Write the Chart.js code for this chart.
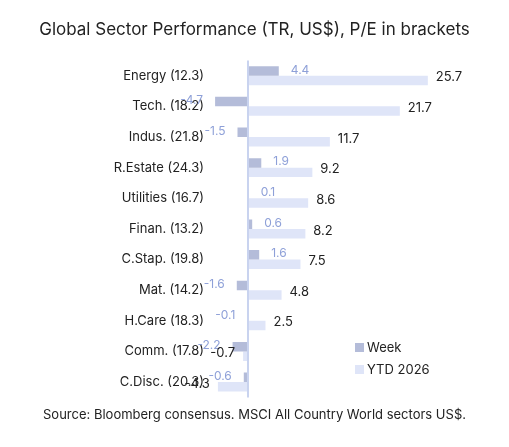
<!DOCTYPE html>
<html><head><meta charset="utf-8">
<script src="https://cdn.jsdelivr.net/npm/chart.js@4"></script>
<style>html,body{margin:0;background:#fff}#wrap{width:509px;height:447px}</style>
</head><body><div id="wrap"><canvas id="c"></canvas></div>
<script>
const categories = ['Energy (12.3)','Tech. (18.2)','Indus. (21.8)','R.Estate (24.3)','Utilities (16.7)','Finan. (13.2)','C.Stap. (19.8)','Mat. (14.2)','H.Care (18.3)','Comm. (17.8)','C.Disc. (20.3)'];
const weekValues = [4.4,-4.7,-1.5,1.9,0.1,0.6,1.6,-1.6,-0.1,-2.2,-0.6];
const ytdValues = [25.7,21.7,11.7,9.2,8.6,8.2,7.5,4.8,2.5,-0.7,-4.3];

const font = 'Inter, "DejaVu Sans", sans-serif';

const labelPlugin = {
  id: 'labels',
  afterDatasetsDraw(chart) {
    const ctx = chart.ctx;
    ctx.save();
    ctx.textBaseline = 'middle';
    chart.data.datasets.forEach((ds, i) => {
      const meta = chart.getDatasetMeta(i);
      meta.data.forEach((el, j) => {
        const v = ds.data[j];
        const neg = v < 0;
        ctx.font = (i === 0 ? '12px ' : '13px ') + font;
        ctx.fillStyle = i === 0 ? '#8ea0d8' : '#222';
        ctx.textAlign = neg ? 'right' : 'left';
        const gap = i === 0 ? 12 : 8;
        ctx.fillText(v.toFixed(1), el.x + (neg ? -gap : gap), el.y + (i === 0 ? -1 : -3));
      });
    });
    // legend
    const lx = 355, ly = 348;
    [['Week', '#b4bcd9'], ['YTD 2026', '#dfe5f8']].forEach((it, k) => {
      ctx.fillStyle = it[1];
      ctx.fillRect(lx, ly + k * 22 - 5, 9, 9);
      ctx.fillStyle = '#222';
      ctx.font = '13px ' + font;
      ctx.textAlign = 'left';
      ctx.fillText(it[0], lx + 12, ly + k * 22);
    });
    ctx.restore();
  }
};

new Chart(document.getElementById('c'), {
  type: 'bar',
  data: {
    labels: categories,
    datasets: [
      { label: 'Week', data: weekValues, backgroundColor: '#b4bcd9' },
      { label: 'YTD 2026', data: ytdValues, backgroundColor: '#dfe5f8' }
    ]
  },
  options: {
    indexAxis: 'y',
    responsive: true,
    maintainAspectRatio: false,
    animation: false,
    datasets: { bar: { categoryPercentage: 0.62, barPercentage: 1 } },
    layout: { padding: { left: 0, right: 0, top: 0, bottom: 0 } },
    scales: {
      x: {
        min: -5, max: 37.3, display: false,
        grid: { display: false }
      },
      y: {
        grid: { display: false },
        border: { display: false },
        ticks: { color: '#222', font: { family: font, size: 13 }, padding: 1 },
        afterFit(s) { s.width = 213; }
      }
    },
    plugins: {
      legend: { display: false },
      tooltip: { enabled: false },
      title: { display: true, text: 'Global Sector Performance (TR, US$), P/E in brackets', color: '#222', font: { family: font, size: 17, weight: 'normal' }, padding: { top: 20, bottom: 20 } },
      subtitle: { display: true, position: 'bottom', text: 'Source: Bloomberg consensus. MSCI All Country World sectors US$.', color: '#222', font: { family: font, size: 13 }, padding: { top: 10, bottom: 24 } }
    }
  },
  plugins: [labelPlugin, {
    id: 'zero',
    afterDatasetsDraw(chart) {
      const { ctx, chartArea } = chart;
      const x = chart.scales.x.getPixelForValue(0);
      ctx.save();
      ctx.strokeStyle = '#c9d3ef';
      ctx.lineWidth = 2;
      ctx.beginPath();
      ctx.moveTo(x, chartArea.top);
      ctx.lineTo(x, chartArea.bottom);
      ctx.stroke();
      ctx.restore();
    }
  }]
});
</script></body></html>
